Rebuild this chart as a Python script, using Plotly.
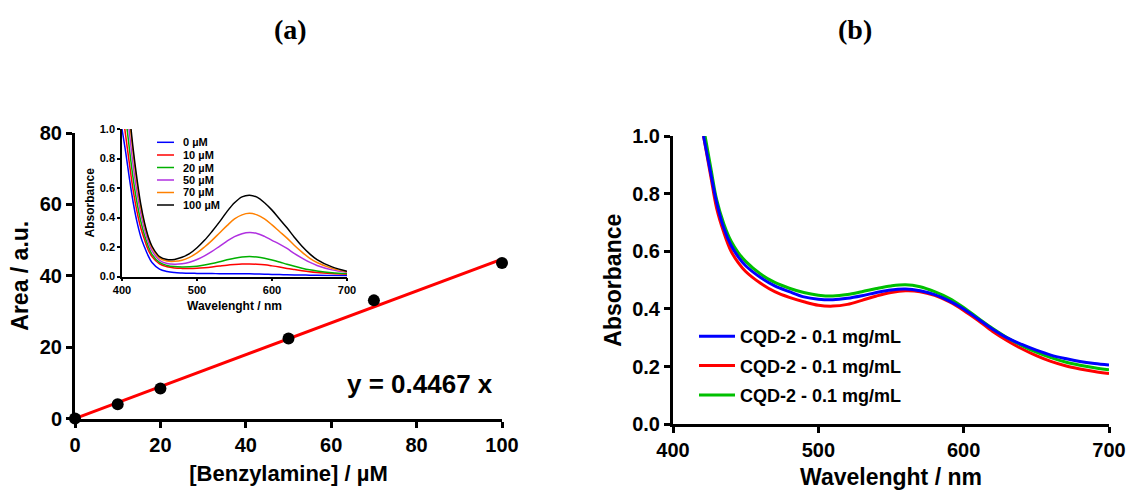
import plotly.graph_objects as go

# ---------------- data: panel (a) main ----------------
conc = [0, 10, 20, 50, 70, 100]
area = [0.0, 4.0, 8.4, 22.4, 33.1, 43.6]
fit_x = [0, 100]
fit_y = [0.0, 44.67]

# ---------------- data: panel (a) inset ----------------
inset_wl = [400, 405, 410, 415, 420, 425, 430, 435, 440, 450, 460, 470, 480, 490,
            500, 510, 520, 530, 540, 550, 560, 570, 580, 590, 600, 610, 620, 630,
            640, 650, 660, 680, 700]
abs_0 = [1.0, 0.84, 0.66, 0.50, 0.37, 0.27, 0.20, 0.14, 0.095, 0.05, 0.034, 0.027, 0.024, 0.022,
         0.021, 0.02, 0.02, 0.019, 0.019, 0.018, 0.018, 0.018, 0.017, 0.016, 0.014, 0.013, 0.012, 0.011,
         0.01, 0.009, 0.008, 0.006, 0.005]
abs_10 = [1.15, 0.95, 0.76, 0.58, 0.44, 0.33, 0.25, 0.18, 0.135, 0.085, 0.066, 0.058, 0.055, 0.054,
          0.056, 0.06, 0.065, 0.071, 0.077, 0.081, 0.084, 0.085, 0.083, 0.079, 0.072, 0.064, 0.055, 0.047,
          0.039, 0.032, 0.027, 0.02, 0.015]
abs_20 = [1.3, 1.08, 0.86, 0.66, 0.5, 0.375, 0.28, 0.205, 0.15, 0.095, 0.075, 0.067, 0.065, 0.066,
          0.07, 0.078, 0.088, 0.1, 0.113, 0.124, 0.132, 0.135, 0.132, 0.124, 0.112, 0.098, 0.083, 0.069,
          0.056, 0.045, 0.037, 0.026, 0.02]
abs_50 = [1.45, 1.2, 0.97, 0.75, 0.57, 0.43, 0.32, 0.235, 0.175, 0.11, 0.088, 0.083, 0.086, 0.097,
          0.115, 0.14, 0.17, 0.205, 0.24, 0.27, 0.29, 0.298, 0.292, 0.272, 0.245, 0.22, 0.19, 0.155,
          0.125, 0.097, 0.075, 0.045, 0.028]
abs_70 = [1.55, 1.3, 1.06, 0.83, 0.63, 0.47, 0.35, 0.26, 0.195, 0.125, 0.105, 0.103, 0.11, 0.13,
          0.16, 0.2, 0.245, 0.295, 0.345, 0.39, 0.418, 0.428, 0.418, 0.39, 0.35, 0.305, 0.26, 0.21,
          0.165, 0.125, 0.095, 0.055, 0.032]
abs_100 = [1.6, 1.34, 1.1, 0.86, 0.66, 0.49, 0.365, 0.27, 0.205, 0.135, 0.115, 0.116, 0.13, 0.155,
           0.195, 0.245, 0.305, 0.37, 0.44, 0.5, 0.54, 0.551, 0.538, 0.5, 0.45, 0.39, 0.33, 0.265,
           0.205, 0.155, 0.115, 0.065, 0.036]
inset_labels = ["0 µM", "10 µM", "20 µM", "50 µM", "70 µM", "100 µM"]
inset_colors = ["#0000ff", "#ff0000", "#00b000", "#b030e0", "#ff8000", "#000000"]

# ---------------- data: panel (b) ----------------
wl_b = [421, 426, 430, 435, 440, 445, 450, 460, 470, 480, 490, 500, 510, 520, 530, 540, 550,
        560, 570, 580, 590, 600, 610, 620, 630, 640, 650, 660, 670, 680, 690, 700]
cqd_blue = [1.0, 0.87, 0.77, 0.68, 0.62, 0.58, 0.55, 0.51, 0.48, 0.46, 0.442, 0.434, 0.432, 0.437,
            0.446, 0.457, 0.466, 0.469, 0.463, 0.45, 0.428, 0.4, 0.365, 0.33, 0.3, 0.277, 0.257,
            0.24, 0.228, 0.218, 0.211, 0.206]
cqd_red = [1.0, 0.86, 0.75, 0.665, 0.6, 0.56, 0.53, 0.49, 0.46, 0.44, 0.425, 0.413, 0.41, 0.416,
           0.43, 0.445, 0.457, 0.463, 0.46, 0.447, 0.425, 0.395, 0.36, 0.322, 0.29, 0.262, 0.238,
           0.218, 0.203, 0.192, 0.183, 0.176]
cqd_green = [1.03, 0.89, 0.78, 0.695, 0.635, 0.595, 0.565, 0.522, 0.492, 0.472, 0.457, 0.448, 0.445,
             0.45, 0.46, 0.471, 0.48, 0.484, 0.477, 0.46, 0.437, 0.405, 0.368, 0.332, 0.3, 0.273,
             0.25, 0.231, 0.216, 0.205, 0.196, 0.189]
b_labels = ["CQD-2 - 0.1 mg/mL", "CQD-2 - 0.1 mg/mL", "CQD-2 - 0.1 mg/mL"]
b_colors = ["#0000ff", "#ff0000", "#00c000"]

W, H = 1129, 490
FONT = "Liberation Sans, Arial, sans-serif"
SERIF = "Liberation Serif, Times New Roman, serif"


def px_x(p):
    return p / W


def px_y(p):
    return 1 - p / H


fig = go.Figure()

# main (a)
fig.add_trace(go.Scatter(x=fit_x, y=fit_y, mode="lines", line=dict(color="#ff0000", width=3),
                         xaxis="x", yaxis="y", showlegend=False))
fig.add_trace(go.Scatter(x=conc, y=area, mode="markers", marker=dict(color="black", size=12),
                         cliponaxis=False, xaxis="x", yaxis="y", showlegend=False))

# inset
inset_series = [abs_0, abs_10, abs_20, abs_50, abs_70, abs_100]
for s, c in zip(inset_series, inset_colors):
    fig.add_trace(go.Scatter(x=inset_wl, y=s, mode="lines", line=dict(color=c, width=1.5, shape="spline"),
                             xaxis="x3", yaxis="y3", showlegend=False))

# panel (b): draw red, green, then blue on top; legend ranked blue, red, green
b_series = [cqd_blue, cqd_red, cqd_green]
for i in [1, 2, 0]:
    fig.add_trace(go.Scatter(x=wl_b, y=b_series[i], mode="lines", name=b_labels[i],
                             legendgroup=f"g{i}", legendrank=i + 1,
                             line=dict(color=b_colors[i], width=3, shape="spline"),
                             xaxis="x2", yaxis="y2"))

big_axis = dict(showline=True, linecolor="black", linewidth=3, ticks="outside", ticklen=6,
                tickwidth=3, tickcolor="black", showgrid=False, zeroline=False, automargin=False,
                tickfont=dict(family=FONT, size=20, color="black", weight="bold"))
small_axis = dict(showline=True, linecolor="black", linewidth=1.5, ticks="outside", ticklen=3,
                  tickwidth=1.5, tickcolor="black", showgrid=False, zeroline=False, automargin=False,
                  tickfont=dict(family=FONT, size=11, color="black", weight="bold"))

fig.update_layout(
    width=W, height=H, margin=dict(l=0, r=0, t=0, b=0, autoexpand=False),
    paper_bgcolor="white", plot_bgcolor="rgba(0,0,0,0)",
    xaxis=dict(big_axis, domain=[px_x(75), px_x(502)], range=[0, 100], dtick=20, anchor="y",
               title=dict(text="[Benzylamine] / µM", standoff=12,
                          font=dict(family=FONT, size=22, color="black", weight="bold"))),
    yaxis=dict(big_axis, domain=[px_y(418.5), px_y(133)], range=[0, 80], dtick=20, anchor="x",
               title=dict(text="Area / a.u.", standoff=5,
                          font=dict(family=FONT, size=23, color="black", weight="bold"))),
    xaxis2=dict(big_axis, domain=[px_x(673), px_x(1109)], range=[400, 700], dtick=100, anchor="y2",
                title=dict(text="Wavelenght / nm", standoff=11,
                           font=dict(family=FONT, size=23, color="black", weight="bold"))),
    yaxis2=dict(big_axis, domain=[px_y(424.3), px_y(136)], range=[0, 1.0], dtick=0.2, anchor="x2",
                tickformat=".1f",
                title=dict(text="Absorbance", standoff=5,
                           font=dict(family=FONT, size=23, color="black", weight="bold"))),
    xaxis3=dict(small_axis, domain=[px_x(122), px_x(347)], range=[400, 700], dtick=100, anchor="y3",
                title=dict(text="Wavelenght / nm", standoff=6,
                           font=dict(family=FONT, size=12, color="black", weight="bold"))),
    yaxis3=dict(small_axis, domain=[px_y(276.5), px_y(129)], range=[0, 1.0], dtick=0.2, anchor="x3",
                tickformat=".1f",
                title=dict(text="Absorbance", standoff=3,
                           font=dict(family=FONT, size=12, color="black", weight="bold"))),
    legend=dict(x=px_x(694), y=px_y(318), xanchor="left", yanchor="top", bgcolor="rgba(0,0,0,0)",
                traceorder="grouped", tracegroupgap=3, itemwidth=36,
                font=dict(family=FONT, size=18, color="black", weight="bold")),
    showlegend=True,
)

annotations = [
    dict(text="(a)", x=px_x(290), y=px_y(30), xref="paper", yref="paper", showarrow=False,
         xanchor="center", yanchor="middle",
         font=dict(family=SERIF, size=28, color="black", weight="bold")),
    dict(text="(b)", x=px_x(855), y=px_y(30), xref="paper", yref="paper", showarrow=False,
         xanchor="center", yanchor="middle",
         font=dict(family=SERIF, size=28, color="black", weight="bold")),
    dict(text="y = 0.4467 x", x=px_x(420), y=px_y(384), xref="paper", yref="paper", showarrow=False,
         xanchor="center", yanchor="middle",
         font=dict(family=FONT, size=26, color="black", weight="bold")),
]
shapes = []
# inset legend (manual, compact)
row_y = [142.3, 155.0, 167.5, 180.0, 192.5, 205.0]
for lab, c, ry in zip(inset_labels, inset_colors, row_y):
    shapes.append(dict(type="line", xref="paper", yref="paper", x0=px_x(157), x1=px_x(174),
                       y0=px_y(ry), y1=px_y(ry), line=dict(color=c, width=1.5)))
    annotations.append(dict(text=lab, x=px_x(181), y=px_y(ry), xref="paper", yref="paper",
                            xanchor="left", yanchor="middle", showarrow=False,
                            font=dict(family=FONT, size=11, color="black", weight="bold")))
fig.update_layout(annotations=annotations, shapes=shapes)

fig.write_html("out.html")
